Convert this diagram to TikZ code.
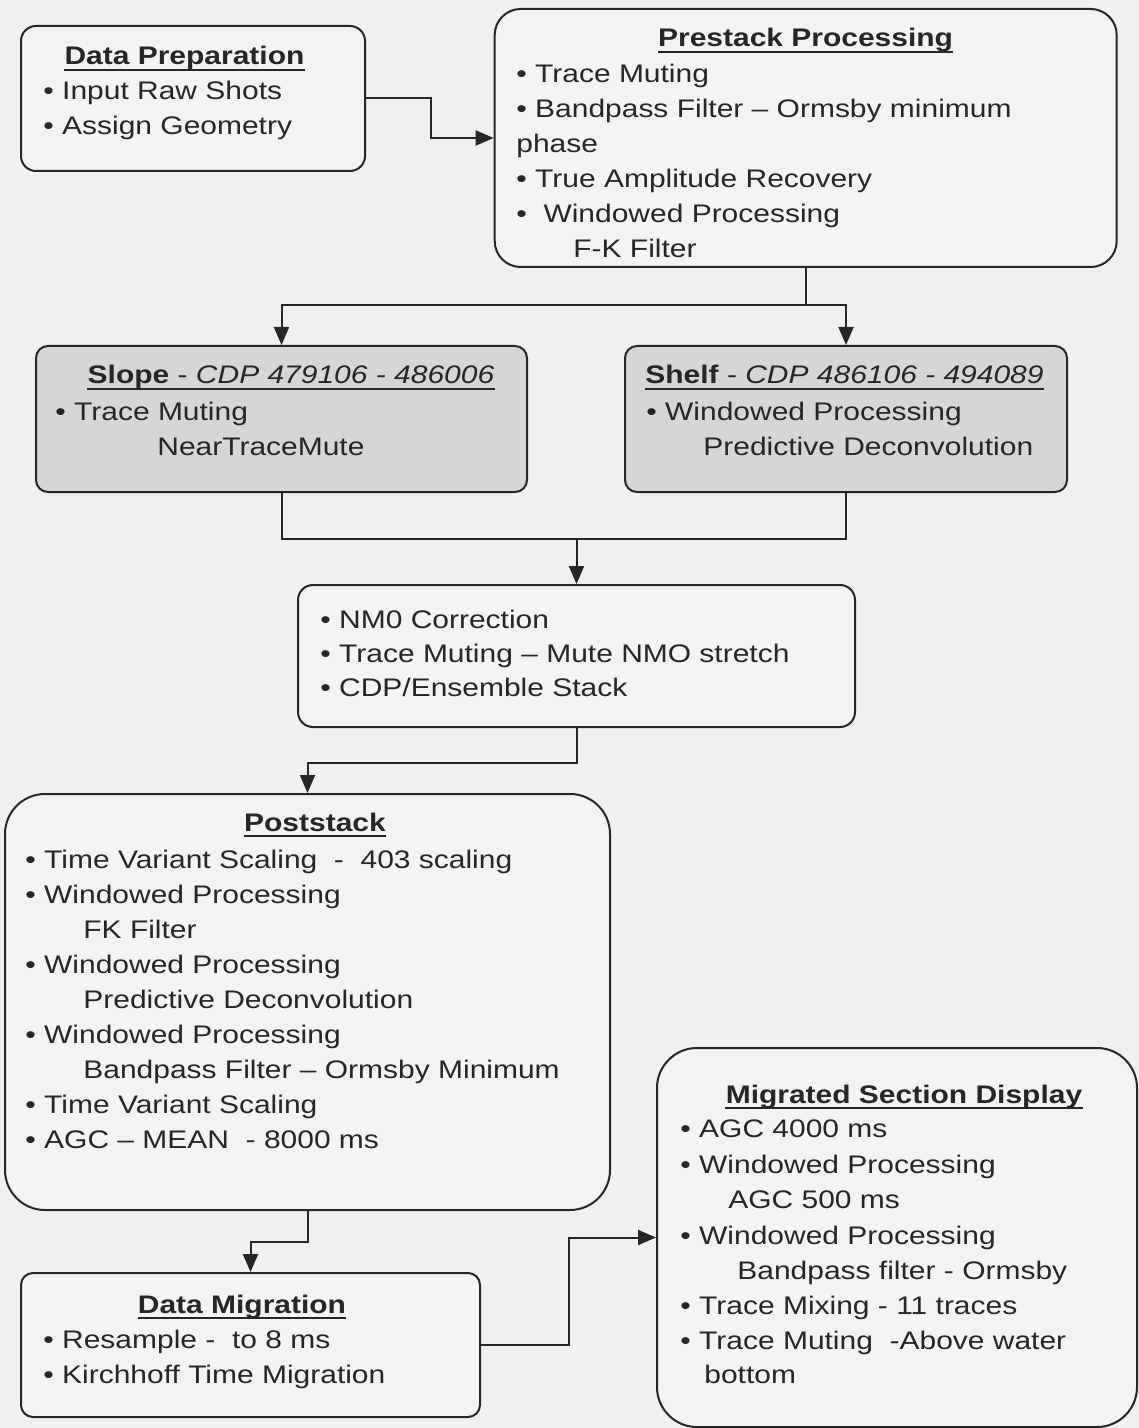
\documentclass[tikz,border=0pt]{standalone}
\usepackage{fontspec}
\setmainfont{Liberation Sans}[FakeStretch=1.18]
\usetikzlibrary{arrows.meta,calc}
\definecolor{bg}{HTML}{F0F0F0}
\definecolor{boxfill}{HTML}{F3F3F3}
\definecolor{shade}{HTML}{D6D6D6}
\definecolor{ink}{HTML}{262626}
\newcommand\fsz{\fontsize{12.7}{15}\selectfont}
\begin{document}
\begin{tikzpicture}[x=0.5pt,y=-0.5pt,
  box/.style={draw=ink, line width=1pt, fill=boxfill, inner sep=0pt},
  shadebox/.style={box, fill=shade},
  ln/.style={anchor=base west, inner sep=0pt, text=ink, font=\fsz},
  ttl/.style={anchor=base, inner sep=0pt, text=ink, font=\fsz},
  conn/.style={draw=ink, line width=1pt},
  arr/.style={conn, -{Triangle[length=9pt,width=7.5pt]}},
  uline/.style={draw=ink, line width=1pt}
]
\useasboundingbox (0,0) rectangle (1139,1428);
\fill[bg] (0,0) rectangle (1139,1428);

% boxes
\node[box, minimum width=172pt, minimum height=72.5pt, rounded corners=7.5pt] (dp) at (193,98.5) {};
\node[box, minimum width=311pt, minimum height=129pt, rounded corners=13pt] (pre) at (805.7,138) {};
\node[shadebox, minimum width=245.5pt, minimum height=73pt, rounded corners=6pt] (slope) at (281.5,419) {};
\node[shadebox, minimum width=221pt, minimum height=73pt, rounded corners=6pt] (shelf) at (846,419) {};
\node[box, minimum width=278.5pt, minimum height=71pt, rounded corners=7.5pt] (nmo) at (576.5,656) {};
\node[box, minimum width=302.5pt, minimum height=208pt, rounded corners=20pt] (post) at (307.5,1002) {};
\node[box, minimum width=229.5pt, minimum height=72pt, rounded corners=6pt] (dm) at (250.5,1345) {};
\node[box, minimum width=240pt, minimum height=189.5pt, rounded corners=20pt] (msd) at (897,1237.5) {};

% Data Preparation
\node[ttl] (tdp) at (184.5,65) {\textbf{Data Preparation}};
\node[ln] (dp1) at (43,100) {• Input Raw Shots};
\node[ln] (dp2) at (43,135) {• Assign Geometry};

% Prestack
\node[ttl] (tpre) at (805.6,47) {\textbf{Prestack Processing}};
\node[ln] (pr1) at (516,83) {• Trace Muting};
\node[ln] (pr2) at (516,118) {• Bandpass Filter – Ormsby minimum};
\node[ln] (pr3) at (516,153) {phase};
\node[ln] (pr4) at (516,188) {• True Amplitude Recovery};
\node[ln] (pr5) at (516,223) {•\ \ Windowed Processing};
\node[ln] (pr6) at (573,258) {F-K Filter};

% Slope
\node[ttl] (tslope) at (291,384) {\textbf{Slope} - \textit{CDP 479106 - 486006}};
\node[ln] (sl1) at (55,420) {• Trace Muting};
\node[ln] (sl2) at (157,455) {NearTraceMute};

% Shelf
\node[ttl] (tshelf) at (844.5,384) {\textbf{Shelf} - \textit{CDP 486106 - 494089}};
\node[ln] (sh1) at (646,420) {• Windowed Processing};
\node[ln] (sh2) at (703,455) {Predictive Deconvolution};

% NMO
\node[ln] (nm1) at (320,628) {• NM0 Correction};
\node[ln] (nm2) at (320,662) {• Trace Muting – Mute NMO stretch};
\node[ln] (nm3) at (320,696) {• CDP/Ensemble Stack};

% Poststack
\node[ttl] (tpost) at (315,831) {\textbf{Poststack}};
\node[ln] (po1) at (25,868) {• Time Variant Scaling\ \ -\ \ 403 scaling};
\node[ln] (po2) at (25,903) {• Windowed Processing};
\node[ln] (po3) at (83,938) {FK Filter};
\node[ln] (po4) at (25,973) {• Windowed Processing};
\node[ln] (po5) at (83,1008) {Predictive Deconvolution};
\node[ln] (po6) at (25,1043) {• Windowed Processing};
\node[ln] (po7) at (83,1078) {Bandpass Filter – Ormsby Minimum};
\node[ln] (po8) at (25,1113) {• Time Variant Scaling};
\node[ln] (po9) at (25,1148) {• AGC – MEAN\ \ - 8000 ms};

% Data Migration
\node[ttl] (tdm) at (242,1313) {\textbf{Data Migration}};
\node[ln] (dm1) at (43,1348) {• Resample -\ \ to 8 ms};
\node[ln] (dm2) at (43,1383) {• Kirchhoff Time Migration};

% Migrated Section Display
\node[ttl] (tmsd) at (904,1103) {\textbf{Migrated Section Display}};
\node[ln] (ms1) at (680,1137) {• AGC 4000 ms};
\node[ln] (ms2) at (680,1173) {• Windowed Processing};
\node[ln] (ms3) at (728,1208) {AGC 500 ms};
\node[ln] (ms4) at (680,1244) {• Windowed Processing};
\node[ln] (ms5) at (737,1279) {Bandpass filter - Ormsby};
\node[ln] (ms6) at (680,1314) {• Trace Mixing - 11 traces};
\node[ln] (ms7) at (680,1349) {• Trace Muting\ \ -Above water};
\node[ln] (ms8) at (704,1383) {bottom};

% underlines
\foreach \t in {tdp,tpre,tslope,tshelf,tpost,tdm,tmsd}
  \draw[uline] ([yshift=-2.7pt]\t.base west) -- ([yshift=-2.7pt]\t.base east);

% connectors
\coordinate (ys) at (0,305);
\coordinate (ym) at (0,539);
\coordinate (split) at (pre.south |- ys);
\coordinate (merge) at (nmo.north |- ym);
\draw[arr] (dp.east) -- ++(65,0) |- (pre.west);
\draw[conn] (pre.south) -- (split);
\draw[arr] (split) -| (slope.north);
\draw[arr] (split) -| (shelf.north);
\draw[conn] (slope.south) |- (merge) -| (shelf.south);
\draw[arr] (merge) -- (nmo.north);
\draw[arr] (nmo.south) -- ++(0,35) -| (post.north);
\draw[arr] (post.south) -- ++(0,31) -| (dm.north);
\draw[arr] (dm.east) -- ++(88,0) |- (msd.west);
\end{tikzpicture}
\end{document}
